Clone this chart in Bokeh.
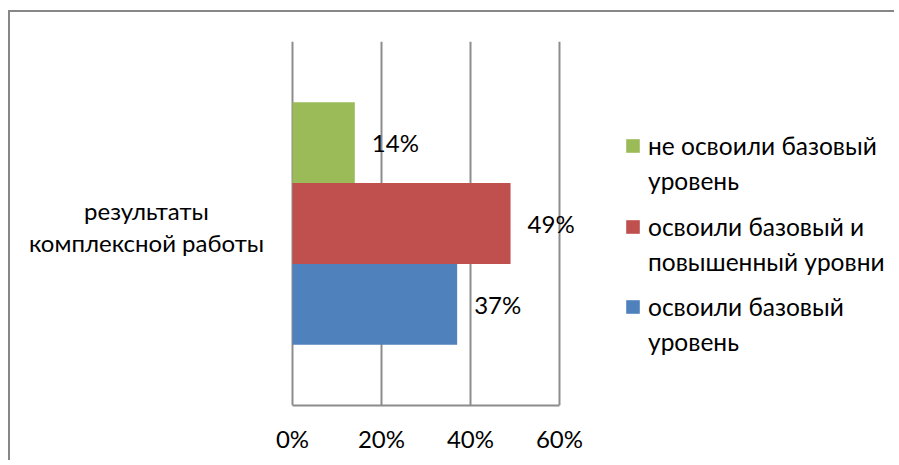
from bokeh.plotting import figure
from bokeh.models import (Range1d, FixedTicker, Label, Legend, LegendItem,
                          ColumnDataSource)
from bokeh.core.properties import value
from bokeh.embed import file_html
from bokeh.resources import INLINE

# ---- data ----
category = "результаты\nкомплексной работы"
series_names = ["не освоили базовый уровень",
                "освоили базовый и повышенный уровни",
                "освоили базовый уровень"]
legend_lines = [["не освоили базовый", "уровень"],
                ["освоили базовый и", "повышенный уровни"],
                ["освоили базовый", "уровень"]]
series_values = [0.14, 0.49, 0.37]
series_colors = ["#9BBB59", "#C0504D", "#4F81BD"]
series_pos = [3.25, 2.25, 1.25]
x_ticks = [0, 0.2, 0.4, 0.6]
x_tick_labels = ["0%", "20%", "40%", "60%"]
value_labels = ["14%", "49%", "37%"]

FONT = "Lato"
FS = "24px"
LEG_FS = "24.5px"

W, H = 886, 450
PX_PER_UNIT = 445.0   # horizontal scale (px per 100%)
ZERO_X = 282          # screen position of 0% inside the canvas
x_start = -ZERO_X / PX_PER_UNIT
x_end = (W - ZERO_X) / PX_PER_UNIT

p = figure(width=W, height=H, output_backend="svg", toolbar_location=None,
           x_range=Range1d(x_start, x_end), y_range=Range1d(0, 4.5),
           min_border_left=0, min_border_top=29, min_border_right=0,
           min_border_bottom=57)
p.styles = {"margin-left": "8px", "margin-top": "10px",
            "border-left": "2px solid #878787", "border-top": "2px solid #878787"}
p.outline_line_color = None
p.background_fill_color = "white"
p.border_fill_color = "white"

renderers = []
for name, v, c, y in zip(series_names, series_values, series_colors, series_pos):
    src = ColumnDataSource(dict(y=[y], right=[v]))
    r = p.hbar(y="y", right="right", left=0, height=1.0, source=src,
               fill_color=c, line_color=None)
    renderers.append(r)

# data labels
lab_src = ColumnDataSource(dict(x=series_values, y=series_pos, t=value_labels))
p.text(x="x", y="y", text="t", source=lab_src, x_offset=17,
       text_baseline="middle", text_align="left",
       text_font=value(FONT), text_font_size=FS, text_color="#000000")

# axes
p.yaxis.visible = False
p.xaxis.bounds = (0, 0.6)
p.xaxis.ticker = FixedTicker(ticks=x_ticks)
p.xaxis.major_label_overrides = {t: l for t, l in zip(x_ticks, x_tick_labels)}
p.xaxis.major_tick_out = 0
p.xaxis.major_tick_in = 0
p.xaxis.minor_tick_out = 0
p.xaxis.minor_tick_in = 0
p.xaxis.axis_line_color = "#8c8c8c"
p.xaxis.axis_line_width = 2
p.xaxis.major_label_text_font = FONT
p.xaxis.major_label_text_font_size = FS
p.xaxis.major_label_text_color = "#000000"
p.xaxis.major_label_standoff = 18

p.ygrid.visible = False
p.xgrid.ticker = FixedTicker(ticks=x_ticks)
p.xgrid.grid_line_color = "#8c8c8c"
p.xgrid.grid_line_width = 2

# category label
p.add_layout(Label(x=136, x_units="screen", y=2.25, y_units="data", y_offset=-3,
                   text=category,
                   text_align="center", text_baseline="middle",
                   text_font=FONT, text_font_size=FS, text_color="#000000",
                   text_line_height=1.08))

# legends (one per series, two lines each)
invis = p.hbar(y=[], right=[], left=0, height=1.0, fill_alpha=0, line_alpha=0)
locs = [210, 129.5, 49]
for r, lines, vy in zip(renderers, legend_lines, locs):
    items = [LegendItem(label=lines[0], renderers=[r]),
             LegendItem(label=lines[1], renderers=[invis])]
    lg = Legend(items=items, location=(614, vy), orientation="vertical",
                glyph_width=17, glyph_height=17, label_standoff=7,
                spacing=6, padding=0, margin=0,
                border_line_color=None, background_fill_alpha=0,
                label_text_font=FONT, label_text_font_size=LEG_FS,
                label_text_color="#000000")
    p.add_layout(lg, "center")

open("out.html", "w").write(file_html(p, INLINE))
